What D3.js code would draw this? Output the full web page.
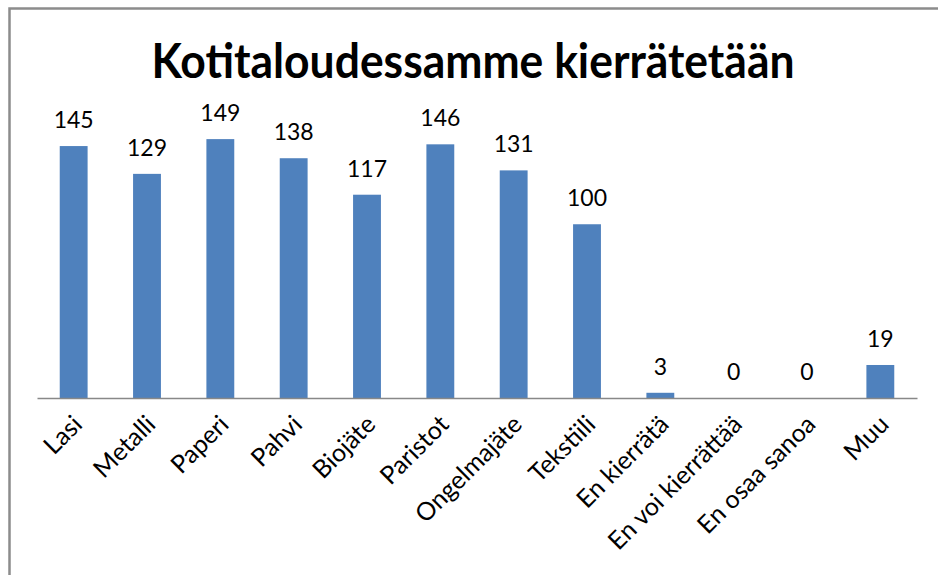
<!DOCTYPE html>
<html><head><meta charset="utf-8">
<script src="https://cdn.jsdelivr.net/npm/d3@7"></script>
<style>body{margin:0;background:#fff;}svg{display:block;}</style>
</head><body>
<script>
const categories = ["Lasi","Metalli","Paperi","Pahvi","Biojäte","Paristot","Ongelmajäte","Tekstiili","En kierrätä","En voi kierrättää","En osaa sanoa","Muu"];
const values = [145,129,149,138,117,146,131,100,3,0,0,19];
const title = "Kotitaloudessamme kierrätetään";

const W = 938, H = 575;
const svg = d3.select("body").append("svg").attr("width", W).attr("height", H);
svg.append("rect").attr("width", W).attr("height", H).attr("fill", "#fff");
// frame
svg.append("path").attr("d", "M9.5,600 L9.5,8.5 L950,8.5").attr("fill","none").attr("stroke","#8c8c8c").attr("stroke-width",2.5);

const x = d3.scaleBand().domain(categories).range([37, 917]).paddingInner(0.62).paddingOuter(0.31);
const y = d3.scaleLinear().domain([0, 160]).range([398, 120]);

svg.append("text").attr("x", 473).attr("y", 78).attr("text-anchor","middle")
  .attr("font-family","Lato, 'Open Sans', sans-serif").attr("font-weight","bold").attr("font-size",48)
  .attr("textLength", 643).attr("lengthAdjust","spacingAndGlyphs").attr("fill","#000").text(title);

svg.selectAll("rect.bar").data(values).join("rect").attr("class","bar")
  .attr("x", (d,i) => x(categories[i])).attr("width", x.bandwidth())
  .attr("y", d => y(d)).attr("height", d => y(0) - y(d)).attr("fill", "#4F81BD");

svg.selectAll("text.val").data(values).join("text").attr("class","val")
  .attr("x", (d,i) => x(categories[i]) + x.bandwidth()/2).attr("y", d => y(d) - 18)
  .attr("text-anchor","middle").attr("font-family","Lato, 'Open Sans', sans-serif").attr("font-size",23)
  .attr("fill","#000").text(d => d);

const axis = d3.axisBottom(x).tickSize(0).tickPadding(0);
const g = svg.append("g").attr("transform", "translate(0,398)").call(axis);
g.select(".domain").attr("stroke", "#888").attr("stroke-width", 1.5);
g.selectAll(".tick text").attr("font-family","Lato, 'Open Sans', sans-serif").attr("font-size",25).attr("fill","#000")
  .attr("text-anchor","end").attr("dy", null).attr("y", 0)
  .attr("transform", "translate(10,28) rotate(-45)");
</script>
</body></html>
